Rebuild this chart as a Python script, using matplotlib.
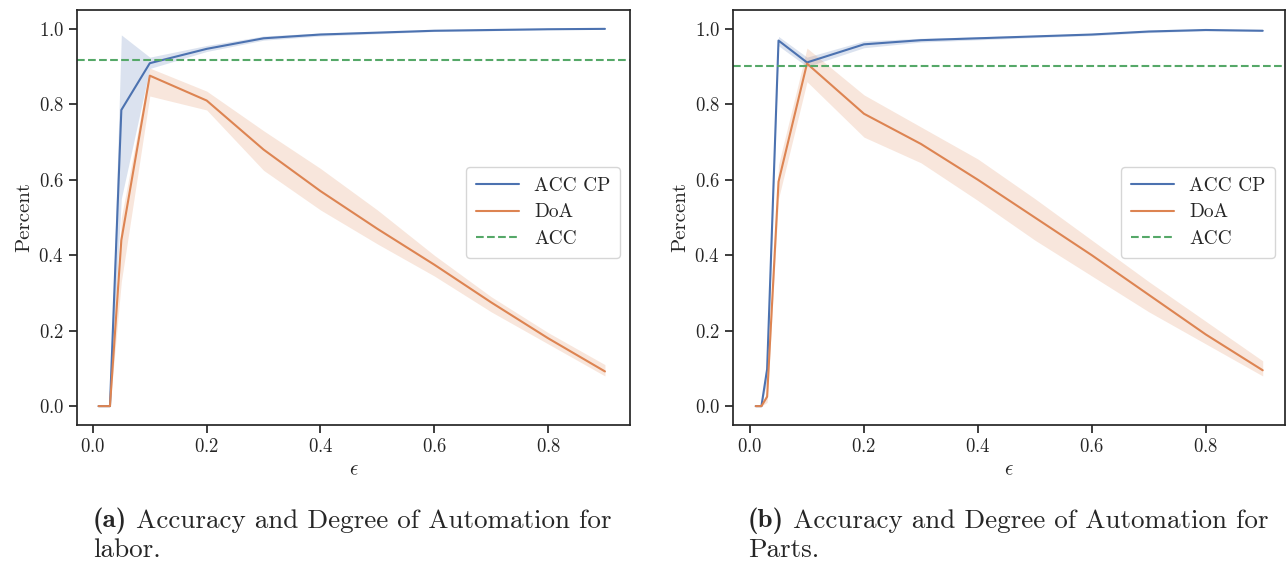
import matplotlib
matplotlib.use("Agg")
import matplotlib.pyplot as plt
import seaborn as sns
from matplotlib.transforms import offset_copy

# epsilon grid and results for the labor dataset
eps_labor = [0.01, 0.03, 0.05, 0.1, 0.2, 0.3, 0.4, 0.5, 0.6, 0.7, 0.8, 0.9]
acc_labor = [0.0, 0.0, 0.785, 0.909, 0.947, 0.975, 0.985, 0.99, 0.995, 0.997, 0.999, 1.0]
acc_labor_lo = [0.0, 0.0, 0.55, 0.895, 0.940, 0.970, 0.981, 0.987, 0.993, 0.995, 0.998, 0.999]
acc_labor_hi = [0.0, 0.0, 0.984, 0.925, 0.956, 0.981, 0.989, 0.993, 0.997, 0.999, 1.0, 1.0]
doa_labor = [0.0, 0.0, 0.44, 0.876, 0.81, 0.68, 0.57, 0.47, 0.375, 0.275, 0.18, 0.092]
doa_labor_lo = [0.0, 0.0, 0.33, 0.822, 0.785, 0.625, 0.52, 0.43, 0.345, 0.25, 0.165, 0.08]
doa_labor_hi = [0.0, 0.0, 0.50, 0.896, 0.835, 0.73, 0.63, 0.52, 0.40, 0.29, 0.195, 0.11]
acc_ref_labor = 0.918

# epsilon grid and results for the parts dataset
eps_parts = [0.01, 0.02, 0.03, 0.05, 0.1, 0.2, 0.3, 0.4, 0.5, 0.6, 0.7, 0.8, 0.9]
acc_parts = [0.0, 0.0, 0.098, 0.969, 0.911, 0.959, 0.97, 0.975, 0.98, 0.985, 0.993, 0.997, 0.995]
acc_parts_lo = [0.0, 0.0, 0.07, 0.955, 0.90, 0.950, 0.965, 0.971, 0.977, 0.982, 0.990, 0.995, 0.993]
acc_parts_hi = [0.0, 0.0, 0.13, 0.980, 0.925, 0.968, 0.975, 0.979, 0.983, 0.988, 0.996, 0.999, 0.997]
doa_parts = [0.0, 0.0, 0.025, 0.595, 0.908, 0.775, 0.695, 0.60, 0.50, 0.40, 0.295, 0.19, 0.095]
doa_parts_lo = [0.0, 0.0, 0.01, 0.55, 0.86, 0.713, 0.645, 0.545, 0.44, 0.345, 0.25, 0.165, 0.08]
doa_parts_hi = [0.0, 0.0, 0.04, 0.64, 0.949, 0.825, 0.74, 0.655, 0.55, 0.44, 0.33, 0.225, 0.12]
acc_ref_parts = 0.902

sub_tags = ["(a)", "(b)"]
captions = [(" Accuracy and Degree of Automation for", "labor."),
            (" Accuracy and Degree of Automation for", "Parts.")]

sns.set_theme(style="ticks")
plt.rcParams["font.family"] = "serif"
plt.rcParams["font.serif"] = ["cmr10"]
plt.rcParams["mathtext.fontset"] = "cm"
plt.rcParams["axes.unicode_minus"] = False
plt.rcParams["axes.formatter.use_mathtext"] = True

pal = sns.color_palette("deep")
blue, orange, green = pal[0], pal[1], pal[2]

fig = plt.figure(figsize=(12.87, 5.65), dpi=100)
ax1 = fig.add_axes([0.0598, 0.2478, 0.4297, 0.7345])
ax2 = fig.add_axes([0.5695, 0.2478, 0.4289, 0.7345])


def draw(ax, eps, acc, acc_lo, acc_hi, doa, doa_lo, doa_hi, ref, xlim):
    ax.fill_between(eps, acc_lo, acc_hi, color=blue, alpha=0.2, lw=0)
    ax.fill_between(eps, doa_lo, doa_hi, color=orange, alpha=0.2, lw=0)
    ax.plot(eps, acc, color=blue, lw=1.5, label="ACC CP")
    ax.plot(eps, doa, color=orange, lw=1.5, label="DoA")
    ax.axhline(ref, color=green, ls="--", lw=1.5, label="ACC")
    ax.set_xlim(*xlim)
    ax.set_ylim(-0.05, 1.05)
    ax.set_xticks([0.0, 0.2, 0.4, 0.6, 0.8])
    ax.set_yticks([0.0, 0.2, 0.4, 0.6, 0.8, 1.0])
    ax.tick_params(labelsize=13.5)
    ax.set_xlabel(r"$\epsilon$", fontsize=15)
    ax.set_ylabel("Percent", fontsize=15)
    ax.legend(loc="upper right", bbox_to_anchor=(1.0, 0.645), fontsize=14,
              handlelength=2.2, borderpad=0.5, labelspacing=0.45)


draw(ax1, eps_labor, acc_labor, acc_labor_lo, acc_labor_hi,
     doa_labor, doa_labor_lo, doa_labor_hi, acc_ref_labor, (-0.028, 0.944))
draw(ax2, eps_parts, acc_parts, acc_parts_lo, acc_parts_hi,
     doa_parts, doa_parts_lo, doa_parts_hi, acc_ref_parts, (-0.030, 0.939))

# sub-figure captions with a bold tag
renderer = fig.canvas.get_renderer()
for x0, tag, (line1, line2) in zip([93, 748], sub_tags, captions):
    t = fig.text(x0 / 1287, 1 - 521 / 565, tag, fontsize=19.5, va="center",
                 family="cmb10")
    w = t.get_window_extent(renderer).width
    fig.text(x0 / 1287, 1 - 521 / 565, line1, fontsize=19.5, va="center",
             transform=offset_copy(fig.transFigure, fig=fig, x=w, y=0, units="dots"))
    fig.text(x0 / 1287, 1 - 550 / 565, line2, fontsize=19.5, va="center")

fig.savefig("out.png", dpi=100)
